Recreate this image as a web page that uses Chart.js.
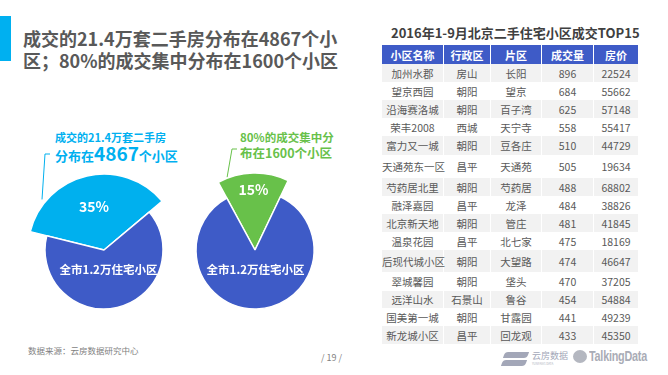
<!DOCTYPE html>
<html>
<head>
<meta charset="utf-8">
<script src="https://cdn.jsdelivr.net/npm/chart.js@4.4.0/dist/chart.umd.min.js"></script>
<style>
  body { margin:0; width:668px; height:375px; overflow:hidden; background:#fff; position:relative;
         font-family:"Noto Sans CJK SC","Noto Sans",sans-serif; }
  .abs { position:absolute; }
  #bar { left:0; top:16px; width:11px; height:45px; background:#00b0f0; }
  #title { left:23px; top:27px; font-size:18px; font-weight:bold; color:#595959; line-height:22px; white-space:nowrap; }
  #noteL { left:55px; top:130px; color:#00b0f0; font-weight:bold; white-space:nowrap; }
  #noteL .l1 { font-size:11px; line-height:14px; }
  #noteL .l2 { font-size:13px; line-height:18px; }
  #noteL .big { font-size:19px; }
  #noteR { left:240px; top:130px; color:#68c14a; font-weight:bold; white-space:nowrap; }
  #noteR .l1 { font-size:11.5px; line-height:15px; }
  #noteR .l2 { font-size:12.5px; line-height:15px; }
  #tblTitle { left:391px; top:23px; font-size:13px; font-weight:bold; color:#404040; white-space:nowrap; }
  #tbl { left:381px; top:45px; width:257px; border-collapse:collapse; table-layout:fixed; }
  #tbl th, #tbl td { padding:0; text-align:center; border-left:1.5px solid #fff; border-right:1.5px solid #fff; white-space:nowrap; }
  #tbl th { background:#3e5bc7; color:#fff; font-size:11px; font-weight:bold; height:19px; }
  #tbl td { font-size:10.5px; color:#595959; }
  #tbl tr:nth-child(even) td { background:#f2f2f2; }
  #src { left:28px; top:344px; font-size:8.5px; color:#7f7f7f; }
  #page { left:321px; top:351px; font-size:9px; color:#7f7f7f; }
  #logo1 { left:532px; top:349px; font-size:9px; color:#a3a7b8; }
  #logo1s { left:532px; top:362px; font-size:3px; color:#b0b3c0; }
  #logo2 { left:589px; top:347px; font-size:15px; font-weight:bold; color:#a9acb6; letter-spacing:-0.3px;
           transform:scaleX(0.72); transform-origin:0 0; font-family:"Liberation Sans",sans-serif; }
</style>
</head>
<body>
<div id="bar" class="abs"></div>
<div id="title" class="abs">成交的21.4万套二手房分布在4867个小<br>区；80%的成交集中分布在1600个小区</div>

<div id="noteL" class="abs"><div class="l1">成交的21.4万套二手房</div><div class="l2">分布在<span class="big">4867</span>个小区</div></div>
<div id="noteR" class="abs"><div class="l1">80%的成交集中分</div><div class="l2">布在1600个小区</div></div>

<canvas id="pieL" class="abs" width="180" height="230" style="left:0;top:100px"></canvas>
<canvas id="pieR" class="abs" width="180" height="230" style="left:180px;top:100px"></canvas>

<div id="tblTitle" class="abs">2016年1-9月北京二手住宅小区成交TOP15</div>
<table id="tbl" class="abs"></table>

<div id="src" class="abs">数据来源：云房数据研究中心</div>
<div id="page" class="abs">/ 19 /</div>
<div class="abs" style="left:504px;top:352px;width:24px;height:6px;background:#a3a7b8;transform:skewX(-20deg);border-radius:3px 0 3px 0"></div>
<div class="abs" style="left:502px;top:360px;width:24px;height:6px;background:#a3a7b8;transform:skewX(-20deg);border-radius:3px 0 3px 0"></div>
<div id="logo1" class="abs">云房数据</div>
<div id="logo1s" class="abs">YUNFANG DATA</div>
<div class="abs" style="left:573px;top:350px;width:14px;height:13px;border-radius:50%;background:#b4b7c0"></div>
<div id="logo2" class="abs">TalkingData</div>

<script>
// pie data
const leftLabels = ['成交小区', '其余小区'];
const leftShares = [35, 65];
const rightLabels = ['成交集中小区', '其余小区'];
const rightShares = [15, 85];
const baseCaption = '全市1.2万住宅小区';

// table data
const tableHeaders = ['小区名称', '行政区', '片区', '成交量', '房价'];
const names = ['加州水郡','望京西园','沿海赛洛城','荣丰2008','富力又一城','天通苑东一区','芍药居北里','融泽嘉园','北京新天地','温泉花园','后现代城小区','翠城馨园','远洋山水','国美第一城','新龙城小区'];
const districts = ['房山','朝阳','朝阳','西城','朝阳','昌平','朝阳','昌平','朝阳','昌平','朝阳','朝阳','石景山','朝阳','昌平'];
const areas = ['长阳','望京','百子湾','天宁寺','豆各庄','天通苑','芍药居','龙泽','管庄','北七家','大望路','垡头','鲁谷','甘露园','回龙观'];
const volumes = [896, 684, 625, 558, 510, 505, 488, 484, 481, 475, 474, 470, 454, 441, 433];
const prices = [22524, 55662, 57148, 55417, 44729, 19634, 68802, 38826, 41845, 18169, 46647, 37205, 54884, 49239, 45350];

// table
const colWidths = [62, 47, 51, 52, 45];
const rowHeights = [18, 18, 18, 18, 19, 23, 18, 18, 18, 18, 22, 19, 17, 18, 18];
const tbl = document.getElementById('tbl');
let html = '<colgroup>' + colWidths.map(w => '<col style="width:' + w + 'px">').join('') + '</colgroup>';
html += '<tr>' + tableHeaders.map(h => '<th>' + h + '</th>').join('') + '</tr>';
names.forEach((n, i) => {
  html += '<tr style="height:' + rowHeights[i] + 'px"><td>' + n + '</td><td>' + districts[i] + '</td><td>' +
    areas[i] + '</td><td>' + volumes[i] + '</td><td>' + prices[i] + '</td></tr>';
});
tbl.innerHTML = html;

// enlarges the first slice and writes labels / leader line
const sliceStyle = {
  id: 'sliceStyle',
  afterDatasetUpdate(chart, args, opts) {
    args.meta.data[0].outerRadius = opts.bigRadius;
  },
  afterDatasetsDraw(chart, args, opts) {
    const ctx = chart.ctx;
    const arcs = chart.getDatasetMeta(0).data;
    const values = chart.data.datasets[0].data;
    ctx.save();
    ctx.fillStyle = '#fff';
    ctx.textAlign = 'center';
    ctx.textBaseline = 'middle';
    arcs.forEach((arc, i) => {
      const mid = (arc.startAngle + arc.endAngle) / 2;
      const x = arc.x + Math.cos(mid) * opts.labelR[i];
      const y = arc.y + Math.sin(mid) * opts.labelR[i];
      if (i === 0) {
        ctx.font = 'bold 14px "Noto Sans CJK SC", sans-serif';
        ctx.fillText(values[i] + '%', x, y);
      } else {
        ctx.font = 'bold 11.5px "Noto Sans CJK SC", sans-serif';
        ctx.fillText(baseCaption, x, y);
      }
    });
    // leader line
    const a = arcs[0];
    const ang = a.startAngle + (a.endAngle - a.startAngle) * opts.leadFrac;
    const r = a.outerRadius + opts.leadGap;
    ctx.strokeStyle = opts.lineColor;
    ctx.lineWidth = 1;
    ctx.beginPath();
    ctx.moveTo(a.x + Math.cos(ang) * r, a.y + Math.sin(ang) * r);
    ctx.lineTo(opts.leadTop[0], opts.leadTop[1]);
    ctx.lineTo(opts.leadTop[0] + 5, opts.leadTop[1]);
    ctx.stroke();
    ctx.restore();
  }
};

function makePie(id, labels, shares, color, rotation, padding, style) {
  return new Chart(document.getElementById(id), {
    type: 'pie',
    data: {
      labels: labels,
      datasets: [{
        data: shares,
        backgroundColor: [color, '#3e5bc7'],
        borderColor: '#fff',
        borderWidth: 1.5,
        clip: false
      }]
    },
    options: {
      responsive: false,
      animation: false,
      events: [],
      radius: 59,
      rotation: rotation,
      layout: { padding: padding },
      plugins: {
        legend: { display: false },
        tooltip: { enabled: false },
        sliceStyle: style
      }
    },
    plugins: [sliceStyle]
  });
}

makePie('pieL', leftLabels, leftShares, '#00b0ee', -76,
  { left: 28, right: 0, top: 70, bottom: 0 },
  { bigRadius: 76, labelR: [44, 20], leadFrac: 0.2, leadGap: 4, leadTop: [45, 54], lineColor: '#00b0ee' });

makePie('pieR', rightLabels, rightShares, '#68c14a', -28.5,
  { left: 0, right: 30, top: 70, bottom: 0 },
  { bigRadius: 77, labelR: [60, 20], leadFrac: 0.14, leadGap: 1, leadTop: [52, 49], lineColor: '#68c14a' });
</script>
</body>
</html>
